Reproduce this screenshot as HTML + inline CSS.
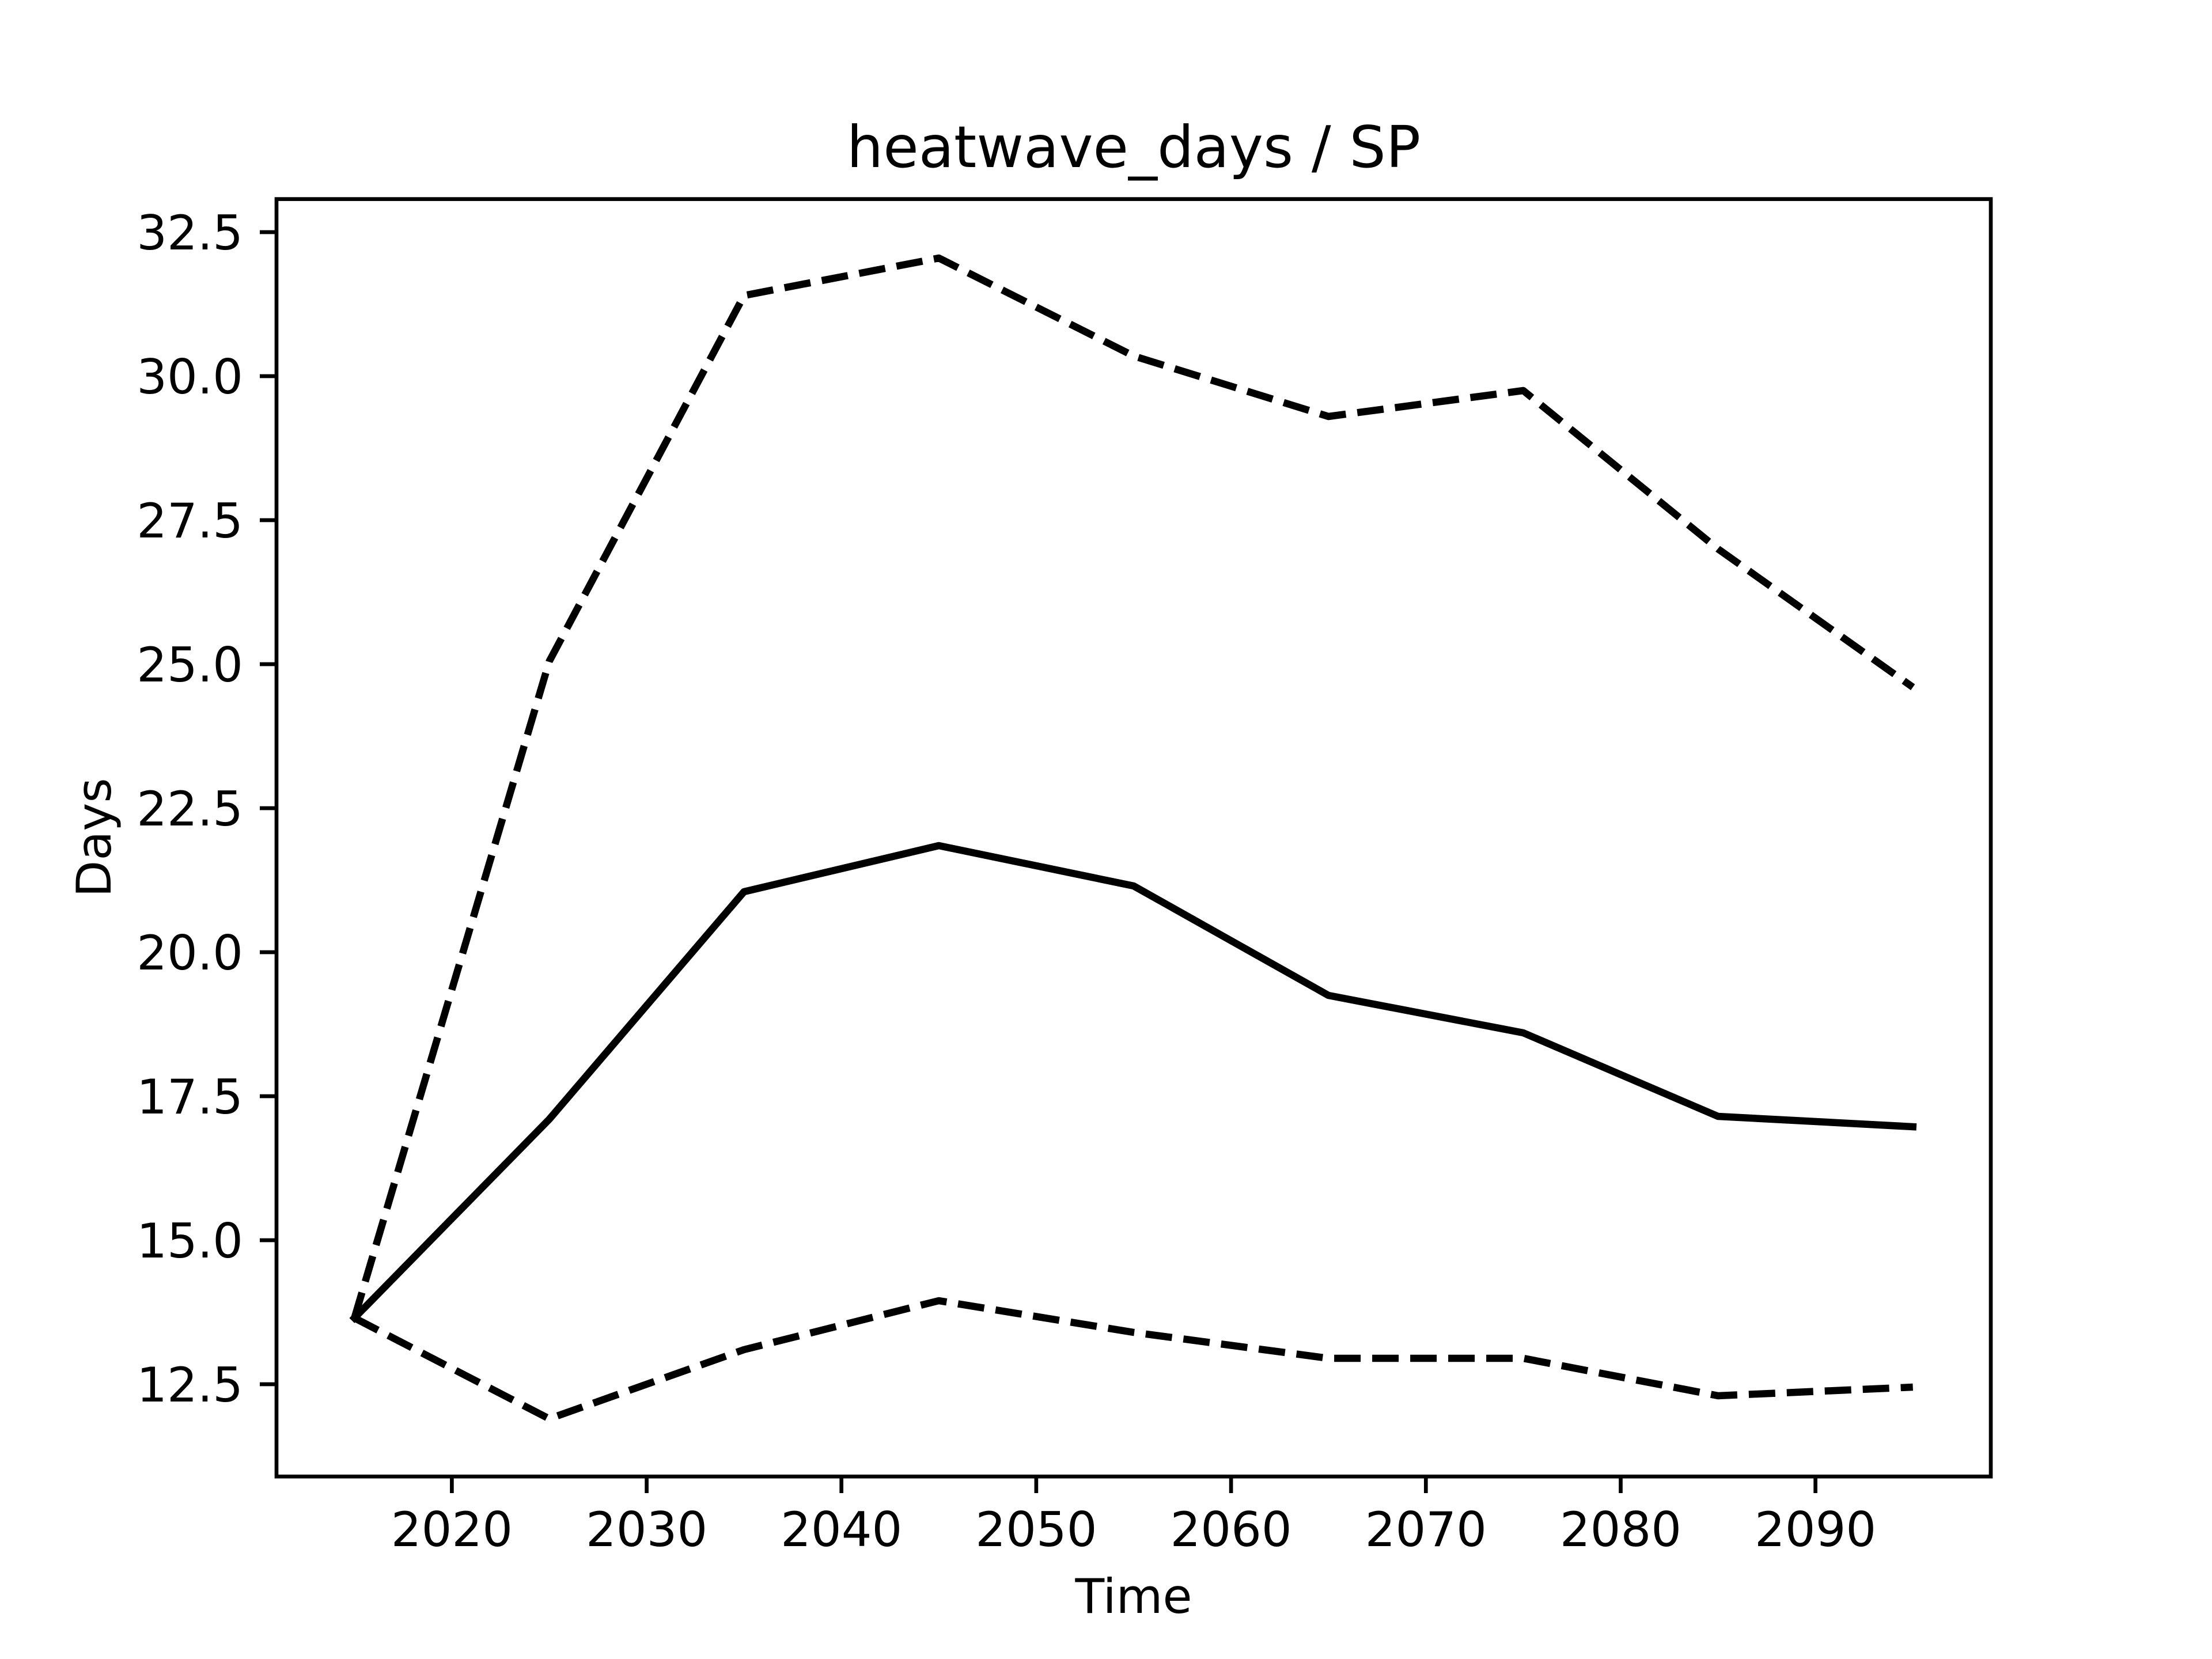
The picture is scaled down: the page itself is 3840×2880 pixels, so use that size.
<!DOCTYPE html>
<html><head><meta charset="utf-8"><style>body{margin:0;background:#fff}svg{display:block}</style></head>
<body>
<svg width="3840" height="2880" viewBox="0 0 3840 2880" xmlns="http://www.w3.org/2000/svg" font-family="DejaVu Sans, Liberation Sans, sans-serif">
<rect width="3840" height="2880" fill="#fff"/>
<g fill="none" stroke="#000" stroke-width="12.5" stroke-linejoin="round">
<polyline stroke-linecap="square" points="615.3,2288 953.5,1943 1291.6,1548 1629.8,1468 1968,1538 2306.2,1728 2644.4,1793 2982.5,1938 3320.7,1956"/>
<polyline stroke-dasharray="46,20" points="615.3,2288 953.5,1148 1291.6,513 1629.8,448 1968,618 2306.2,723 2644.4,678 2982.5,953 3320.7,1193"/>
<polyline stroke-dasharray="46,20" points="615.3,2288 953.5,2463 1291.6,2343 1629.8,2258 1968,2313 2306.2,2358 2644.4,2358 2982.5,2423 3320.7,2408"/>
</g>
<rect x="480" y="345.6" width="2976" height="2217.6" fill="none" stroke="#000" stroke-width="6.67"/>
<g stroke="#000" stroke-width="6.67">
<line x1="451" x2="480" y1="2403" y2="2403"/><line x1="451" x2="480" y1="2153" y2="2153"/><line x1="451" x2="480" y1="1903" y2="1903"/><line x1="451" x2="480" y1="1653" y2="1653"/><line x1="451" x2="480" y1="1403" y2="1403"/><line x1="451" x2="480" y1="1153" y2="1153"/><line x1="451" x2="480" y1="903" y2="903"/><line x1="451" x2="480" y1="653" y2="653"/><line x1="451" x2="480" y1="403" y2="403"/>
<line y1="2563" y2="2592" x1="784.4" x2="784.4"/><line y1="2563" y2="2592" x1="1122.6" x2="1122.6"/><line y1="2563" y2="2592" x1="1460.7" x2="1460.7"/><line y1="2563" y2="2592" x1="1798.9" x2="1798.9"/><line y1="2563" y2="2592" x1="2137.1" x2="2137.1"/><line y1="2563" y2="2592" x1="2475.3" x2="2475.3"/><line y1="2563" y2="2592" x1="2813.5" x2="2813.5"/><line y1="2563" y2="2592" x1="3151.6" x2="3151.6"/>
</g>
<g font-size="83" text-anchor="end" fill="#000">
<text x="422" y="2433">12.5</text><text x="422" y="2183">15.0</text><text x="422" y="1933">17.5</text><text x="422" y="1683">20.0</text><text x="422" y="1433">22.5</text><text x="422" y="1183">25.0</text><text x="422" y="933">27.5</text><text x="422" y="683">30.0</text><text x="422" y="433">32.5</text>
</g>
<g font-size="83" text-anchor="middle" fill="#000">
<text x="784.4" y="2684">2020</text><text x="1122.6" y="2684">2030</text><text x="1460.7" y="2684">2040</text><text x="1798.9" y="2684">2050</text><text x="2137.1" y="2684">2060</text><text x="2475.3" y="2684">2070</text><text x="2813.5" y="2684">2080</text><text x="3151.6" y="2684">2090</text>
<text x="1968" y="2800">Time</text>
<text transform="translate(192,1454) rotate(-90)">Days</text>
<text x="1968" y="290" font-size="100">heatwave_days / SP</text>
</g>
</svg>
</body></html>
